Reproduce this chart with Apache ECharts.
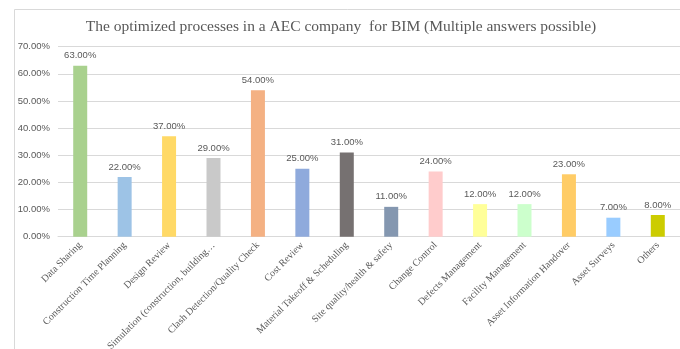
<!DOCTYPE html>
<html>
<head>
<meta charset="utf-8">
<script src="https://cdn.jsdelivr.net/npm/echarts@6/dist/echarts.min.js"></script>
<style>
  html, body { margin: 0; padding: 0; background: #fff; }
  #chart { width: 680px; height: 349px; }
</style>
</head>
<body>
<div id="chart"></div>
<script>
// Processes optimized with BIM, share of respondents (%)
const categories = [
  'Data Sharing',
  'Construction Time Planning',
  'Design Review',
  'Simulation (construction, building…',
  'Clash Detection/Quality Check',
  'Cost Review',
  'Material Takeoff & Scheduling',
  'Site quality/health & safety',
  'Change Control',
  'Defects Management',
  'Facility Management',
  'Asset Information Handover',
  'Asset Surveys',
  'Others'
];
const values = [63, 22, 37, 29, 54, 25, 31, 11, 24, 12, 12, 23, 7, 8];
const barColors = [
  '#A9D18E', '#9DC3E6', '#FFD966', '#C9C9C9', '#F4B183', '#8FAADC', '#767171',
  '#8497B0', '#FFCCCC', '#FFFF99', '#CCFFCC', '#FFCC66', '#99CCFF', '#CCCC00'
];
const yTicks = [0, 10, 20, 30, 40, 50, 60, 70];

const chart = echarts.init(document.getElementById('chart'), null, { renderer: 'canvas' });

chart.setOption({
  animation: false,
  backgroundColor: '#fff',
  title: {
    text: 'The optimized processes in a AEC company  for BIM (Multiple answers possible)',
    left: 336,
    textAlign: 'center',
    top: 14,
    textStyle: {
      fontFamily: 'Liberation Serif',
      fontWeight: 'normal',
      fontSize: 15.5,
      color: '#595959'
    }
  },
  graphic: [{
    type: 'rect',
    left: 12,
    top: 7,
    shape: { width: 700, height: 400 },
    style: { fill: 'none', stroke: '#D9D9D9', lineWidth: 1 },
    silent: true
  }],
  grid: { left: 58, right: 0, top: 46.7, bottom: 112.3, outerBoundsMode: 'none', containLabel: false },
  xAxis: {
    type: 'category',
    data: categories,
    axisTick: { show: false },
    axisLine: { lineStyle: { color: '#D9D9D9' } },
    axisLabel: {
      rotate: 45,
      interval: 0,
      margin: 7,
      fontFamily: 'Liberation Serif',
      fontSize: 10,
      color: '#595959'
    }
  },
  yAxis: {
    type: 'value',
    min: yTicks[0],
    max: yTicks[yTicks.length - 1],
    interval: 10,
    axisLine: { show: false },
    axisTick: { show: false },
    splitLine: { lineStyle: { color: '#D9D9D9' } },
    axisLabel: {
      margin: 8,
      fontFamily: 'Liberation Sans',
      fontSize: 9.5,
      color: '#595959',
      formatter: v => v.toFixed(2) + '%'
    }
  },
  series: [{
    type: 'bar',
    barWidth: 14,
    data: values.map((v, i) => ({ value: v, itemStyle: { color: barColors[i] } })),
    label: {
      show: true,
      position: 'top',
      distance: 5,
      fontFamily: 'Liberation Sans',
      fontSize: 9.5,
      color: '#595959',
      formatter: p => p.value.toFixed(2) + '%'
    }
  }]
});
</script>
</body>
</html>
